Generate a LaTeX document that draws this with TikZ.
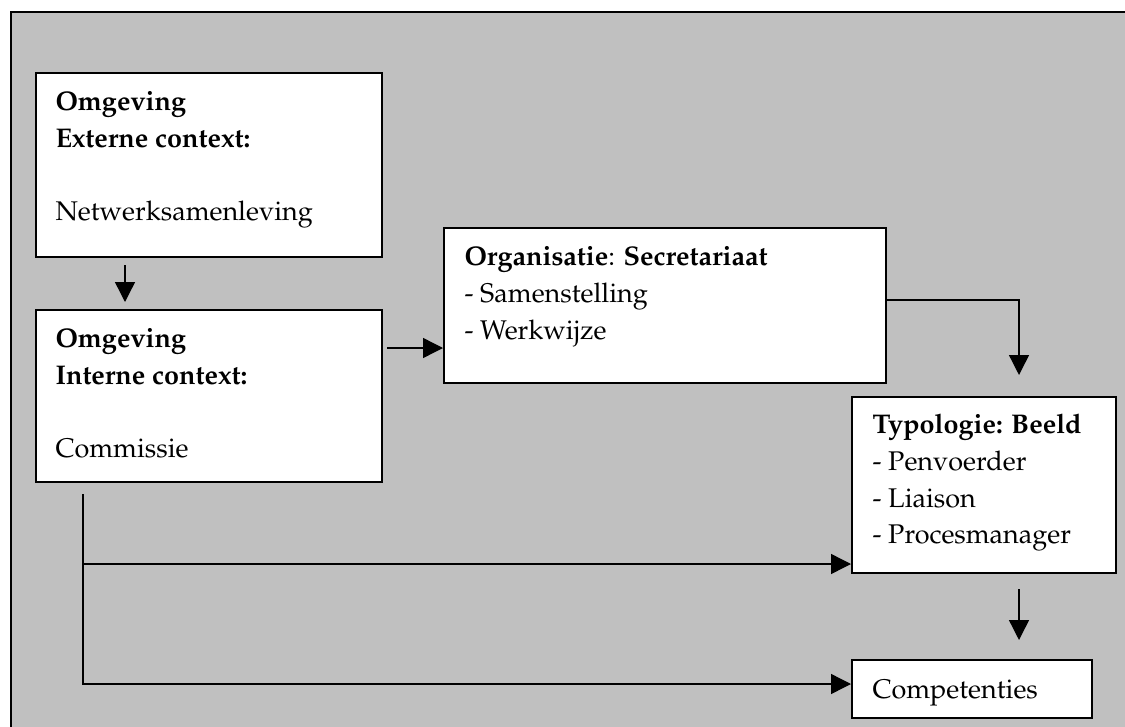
\documentclass[tikz,border=0pt]{standalone}
\usepackage[T1]{fontenc}
\usepackage{mathpazo}
\usetikzlibrary{arrows.meta}
\definecolor{framegray}{HTML}{C0C0C0}
\tikzset{
  box/.style={draw, fill=white, line width=0.8pt, anchor=north west, inner sep=0pt},
  txt/.style={anchor=north west, inner sep=0pt, align=left, font=\fontsize{10.8pt}{14.7pt}\selectfont},
  conn/.style={line width=0.55pt, -{Triangle[length=8pt,width=8pt]}},
}
\begin{document}
\begin{tikzpicture}[x=0.4pt,y=-0.4pt]
\useasboundingbox (0,0) rectangle (1125,726);
\fill[white] (0,0) rectangle (1125,726);
\draw[fill=framegray, line width=0.8pt] (11,12) rectangle (1145,745);

\node[box, minimum width=138.4pt, minimum height=73.6pt] (box1) at (35,72) {};
\node[box, minimum width=138.4pt, minimum height=68.8pt] (box2) at (35,309) {};
\node[box, minimum width=176.8pt, minimum height=62pt] (box3) at (443,227) {};
\node[box, minimum width=105.6pt, minimum height=70.4pt] (box4) at (851,396) {};
\node[box, minimum width=96pt, minimum height=23.2pt] (box5) at (851,659) {};

\node[txt] (t1) at (55,84.3) {\strut\textbf{Omgeving}\\\textbf{Externe context:}\\\mbox{}\\Netwerksamenleving};
\node[txt] (t2) at (55,321.3) {\strut\textbf{Omgeving}\\\textbf{Interne context:}\\\mbox{}\\Commissie};
\node[txt] (t3) at (464,239.3) {\strut\textbf{Organisatie}: \textbf{Secretariaat}\\- Samenstelling\\- Werkwijze};
\node[txt] (t4) at (872,407.3) {\strut\textbf{Typologie: Beeld}\\- Penvoerder\\- Liaison\\- Procesmanager};
\node[txt] (t5) at (872,672.3) {\strut Competenties};

\draw[conn] ([shift={(90,7)}]box1.south west) -- ([shift={(90,-7)}]box2.north west);
\draw[conn] ([shift={(4,39)}]box2.north east) -- ([shift={(0,121)}]box3.north west);
\draw[conn] ([shift={(0,73)}]box3.north east) -| ([shift={(168,-21)}]box4.north west);
\draw[conn] ([shift={(168,15)}]box4.south west) -- ([shift={(168,-19)}]box5.north west);
\coordinate (split) at ([shift={(48,11)}]box2.south west);
\draw[conn] (split) |- ([shift={(0,168)}]box4.north west);
\draw[conn] (split) |- ([shift={(0,25)}]box5.north west);
\end{tikzpicture}
\end{document}
